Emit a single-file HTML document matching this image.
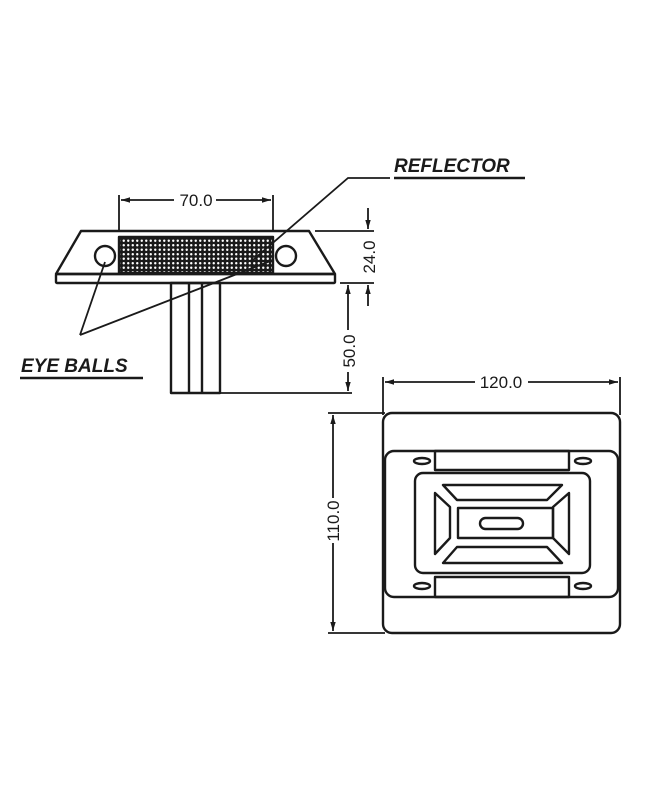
<!DOCTYPE html>
<html><head><style>
html,body{margin:0;padding:0;background:#fff;}
svg{display:block;}
text{font-family:"Liberation Sans",sans-serif;fill:#1a1a1a;}
</style></head><body>
<svg width="646" height="793" viewBox="0 0 646 793" xmlns="http://www.w3.org/2000/svg">
<defs>
<pattern id="dots" width="4.5" height="4.5" patternUnits="userSpaceOnUse">
<rect width="4.5" height="4.5" fill="#1a1a1a"/>
<circle cx="2.25" cy="2.25" r="1.2" fill="#fff"/>
</pattern>
<marker id="ar" viewBox="0 0 10 10" refX="10" refY="5" markerWidth="9" markerHeight="9" orient="auto-start-reverse" markerUnits="userSpaceOnUse">
<path d="M0,2 L10,5 L0,8 Z" fill="#1a1a1a"/>
</marker>
</defs>
<g stroke="#1a1a1a" stroke-width="2.4" fill="none" stroke-linejoin="round">
<path d="M81,231 L309,231 L335,274 L56,274 Z" fill="#fff"/>
<rect x="56" y="274" width="279" height="9" rx="1"/>
<rect x="119" y="237" width="154" height="36" fill="url(#dots)"/>
<circle cx="105" cy="256" r="10"/>
<circle cx="286" cy="256" r="10"/>
<rect x="171" y="283" width="49" height="110"/>
<line x1="189" y1="283" x2="189" y2="393"/>
<line x1="202" y1="283" x2="202" y2="393"/>
</g>
<g stroke="#1a1a1a" stroke-width="1.8" fill="none">
<line x1="119" y1="195" x2="119" y2="231"/>
<line x1="273" y1="195" x2="273" y2="231"/>
<line x1="121" y1="200" x2="174" y2="200" marker-start="url(#ar)"/>
<line x1="216" y1="200" x2="271" y2="200" marker-end="url(#ar)"/>
<line x1="315" y1="231" x2="374" y2="231"/>
<line x1="340" y1="283" x2="374" y2="283"/>
<line x1="368" y1="208" x2="368" y2="229" marker-end="url(#ar)"/>
<line x1="368" y1="306" x2="368" y2="285" marker-end="url(#ar)"/>
<line x1="220" y1="393" x2="352" y2="393"/>
<line x1="348" y1="285" x2="348" y2="330" marker-start="url(#ar)"/>
<line x1="348" y1="372" x2="348" y2="391" marker-end="url(#ar)"/>
<line x1="80" y1="335" x2="105" y2="262"/>
<line x1="80" y1="335" x2="273" y2="260"/>
<polyline points="253,260 348,178 390,178"/>
<line x1="394" y1="178" x2="525" y2="178" stroke-width="2.4"/>
<line x1="20" y1="378" x2="143" y2="378" stroke-width="2.4"/>
<line x1="383" y1="377" x2="383" y2="415"/>
<line x1="620" y1="377" x2="620" y2="415"/>
<line x1="385" y1="382" x2="475" y2="382" marker-start="url(#ar)"/>
<line x1="528" y1="382" x2="618" y2="382" marker-end="url(#ar)"/>
<line x1="328" y1="413" x2="385" y2="413"/>
<line x1="328" y1="633" x2="385" y2="633"/>
<line x1="333" y1="415" x2="333" y2="498" marker-start="url(#ar)"/>
<line x1="333" y1="543" x2="333" y2="631" marker-end="url(#ar)"/>
</g>
<g stroke="#1a1a1a" stroke-width="2.4" fill="none" stroke-linejoin="round">
<rect x="383" y="413" width="237" height="220" rx="9"/>
<rect x="385" y="451" width="233" height="146" rx="9"/>
<rect x="435" y="451" width="134" height="19"/>
<rect x="435" y="577" width="134" height="20"/>
<ellipse cx="422" cy="461" rx="8" ry="3"/>
<ellipse cx="583" cy="461" rx="8" ry="3"/>
<ellipse cx="422" cy="586" rx="8" ry="3"/>
<ellipse cx="583" cy="586" rx="8" ry="3"/>
<rect x="415" y="473" width="175" height="100" rx="8"/>
<path d="M443,485 L562,485 L547,500 L457,500 Z"/>
<path d="M457,547 L547,547 L562,563 L443,563 Z"/>
<path d="M435,493 L450,507 L450,538 L435,554 Z"/>
<path d="M569,493 L553,507 L553,538 L569,554 Z"/>
<rect x="458" y="508" width="95" height="30"/>
<rect x="480" y="518" width="43" height="11" rx="5.5"/>
</g>
<text x="196" y="206" font-size="17" text-anchor="middle">70.0</text>
<text x="0" y="0" font-size="17" text-anchor="middle" transform="translate(375,257) rotate(-90)">24.0</text>
<text x="0" y="0" font-size="17" text-anchor="middle" transform="translate(355,351) rotate(-90)">50.0</text>
<text x="501" y="388" font-size="17" text-anchor="middle">120.0</text>
<text x="0" y="0" font-size="17" text-anchor="middle" transform="translate(339,521) rotate(-90)">110.0</text>
<text x="394" y="172" font-size="19" font-weight="bold" font-style="italic">REFLECTOR</text>
<text x="21" y="372" font-size="19" font-weight="bold" font-style="italic">EYE BALLS</text>
</svg>
</body></html>
